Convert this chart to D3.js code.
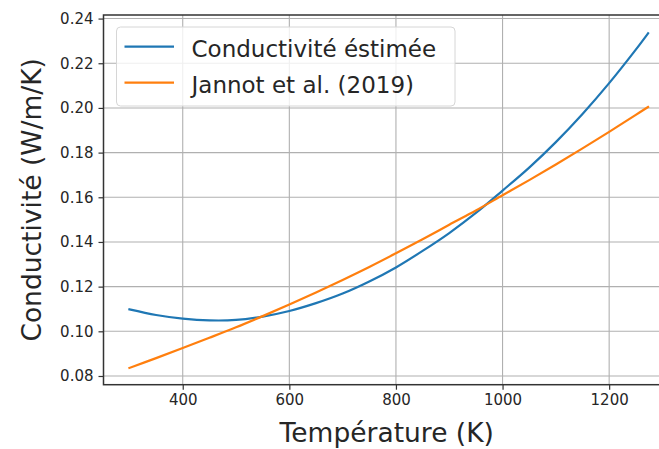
<!DOCTYPE html>
<html>
<head>
<meta charset="utf-8">
<script src="https://cdn.jsdelivr.net/npm/d3@7"></script>
<style>
  html, body { margin: 0; padding: 0; background: #fff; }
  svg { display: block; font-family: "DejaVu Sans", sans-serif; }
</style>
</head>
<body>
<svg id="chart" width="659" height="449"></svg>
<script>
// Temperature samples (K)
const temperatures = [300, 350, 400, 450, 500, 550, 600, 650, 700, 750, 800, 850, 900,
                      950, 1000, 1050, 1100, 1150, 1200, 1250, 1273];
// Estimated conductivity (W/m/K)
const conductEstimated = [0.1098, 0.1073, 0.1057, 0.1049, 0.1051, 0.1066, 0.1091, 0.1126,
                          0.1169, 0.1223, 0.1286, 0.1360, 0.1440, 0.1530, 0.1630, 0.1733,
                          0.1847, 0.1973, 0.2111, 0.2261, 0.2334];
// Reference conductivity, Jannot et al. (2019)
const conductJannot = [0.0836, 0.0880, 0.0925, 0.0971, 0.1018, 0.1068, 0.1120, 0.1174,
                       0.1230, 0.1288, 0.1349, 0.1412, 0.1477, 0.1541, 0.1609, 0.1677,
                       0.1747, 0.1819, 0.1893, 0.1969, 0.2004];
const xTickValues = [400, 600, 800, 1000, 1200];
const yTickValues = [0.08, 0.10, 0.12, 0.14, 0.16, 0.18, 0.20, 0.22, 0.24];
const seriesNames = ["Conductivité éstimée", "Jannot et al. (2019)"];
const seriesColors = ["#1f77b4", "#ff7f0e"];

const svg = d3.select("#chart");
const plot = { left: 103.5, right: 674, top: 15, bottom: 384.7 };

const x = d3.scaleLinear().domain([251.35, 1321.65]).range([plot.left, plot.right]);
const y = d3.scaleLinear().domain([0.0761, 0.2416]).range([plot.bottom, plot.top]);

// grid
const grid = svg.append("g").attr("stroke", "#b0b0b0").attr("stroke-width", 1.1);
grid.selectAll("line.gx").data(xTickValues).join("line")
  .attr("x1", d => x(d)).attr("x2", d => x(d))
  .attr("y1", plot.top).attr("y2", plot.bottom);
grid.selectAll("line.gy").data(yTickValues).join("line")
  .attr("x1", plot.left).attr("x2", plot.right)
  .attr("y1", d => y(d)).attr("y2", d => y(d));

// curves
const series = [conductEstimated, conductJannot];
const line = d3.line()
  .x((d, i) => x(temperatures[i]))
  .y(d => y(d))
  .curve(d3.curveCatmullRom.alpha(0.5));
svg.append("g").selectAll("path").data(series).join("path")
  .attr("d", d => line(d))
  .attr("fill", "none")
  .attr("stroke", (d, i) => seriesColors[i])
  .attr("stroke-width", 2.2)
  .attr("stroke-linecap", "square");

// axes
const xAxis = svg.append("g").attr("transform", `translate(0,${plot.bottom})`)
  .call(d3.axisBottom(x).tickValues(xTickValues).tickFormat(d3.format("d"))
    .tickSize(5).tickPadding(5).tickSizeOuter(0));
const yAxis = svg.append("g").attr("transform", `translate(${plot.left},0)`)
  .call(d3.axisLeft(y).tickValues(yTickValues).tickFormat(d3.format(".2f"))
    .tickSize(5).tickPadding(5).tickSizeOuter(0));
[xAxis, yAxis].forEach(a => {
  a.select(".domain").remove();
  a.selectAll(".tick line").attr("stroke", "#333").attr("stroke-width", 1.2);
  a.selectAll(".tick text").attr("fill", "#262626")
    .style("font-family", "DejaVu Sans").style("font-size", "15px");
});

// frame
svg.append("rect")
  .attr("x", plot.left).attr("y", plot.top)
  .attr("width", plot.right - plot.left).attr("height", plot.bottom - plot.top)
  .attr("fill", "none").attr("stroke", "#333").attr("stroke-width", 1.5);

// axis titles
svg.append("text")
  .attr("x", (plot.left + plot.right) / 2 - 2).attr("y", 442)
  .attr("text-anchor", "middle").attr("fill", "#262626")
  .style("font-size", "26.5px").text("Température (K)");
svg.append("text")
  .attr("transform", `translate(40.5,${(plot.top + plot.bottom) / 2}) rotate(-90)`)
  .attr("text-anchor", "middle").attr("fill", "#262626")
  .style("font-size", "26.5px").text("Conductivité (W/m/K)");

// legend
const legend = svg.append("g");
legend.append("rect")
  .attr("x", 116.5).attr("y", 27).attr("width", 338.5).attr("height", 79)
  .attr("rx", 4).attr("fill", "#fff").attr("fill-opacity", 0.8)
  .attr("stroke", "#d6d6d6").attr("stroke-width", 1);
const rows = legend.selectAll("g.row").data(seriesNames).join("g")
  .attr("transform", (d, i) => `translate(0,${46.7 + i * 36})`);
rows.append("line")
  .attr("x1", 124.5).attr("x2", 174).attr("y1", 0).attr("y2", 0)
  .attr("stroke", (d, i) => seriesColors[i]).attr("stroke-width", 2.2);
rows.append("text")
  .attr("x", 191.5).attr("y", 9.8)
  .attr("fill", "#262626").style("font-size", "23px")
  .text(d => d);
</script>
</body>
</html>
